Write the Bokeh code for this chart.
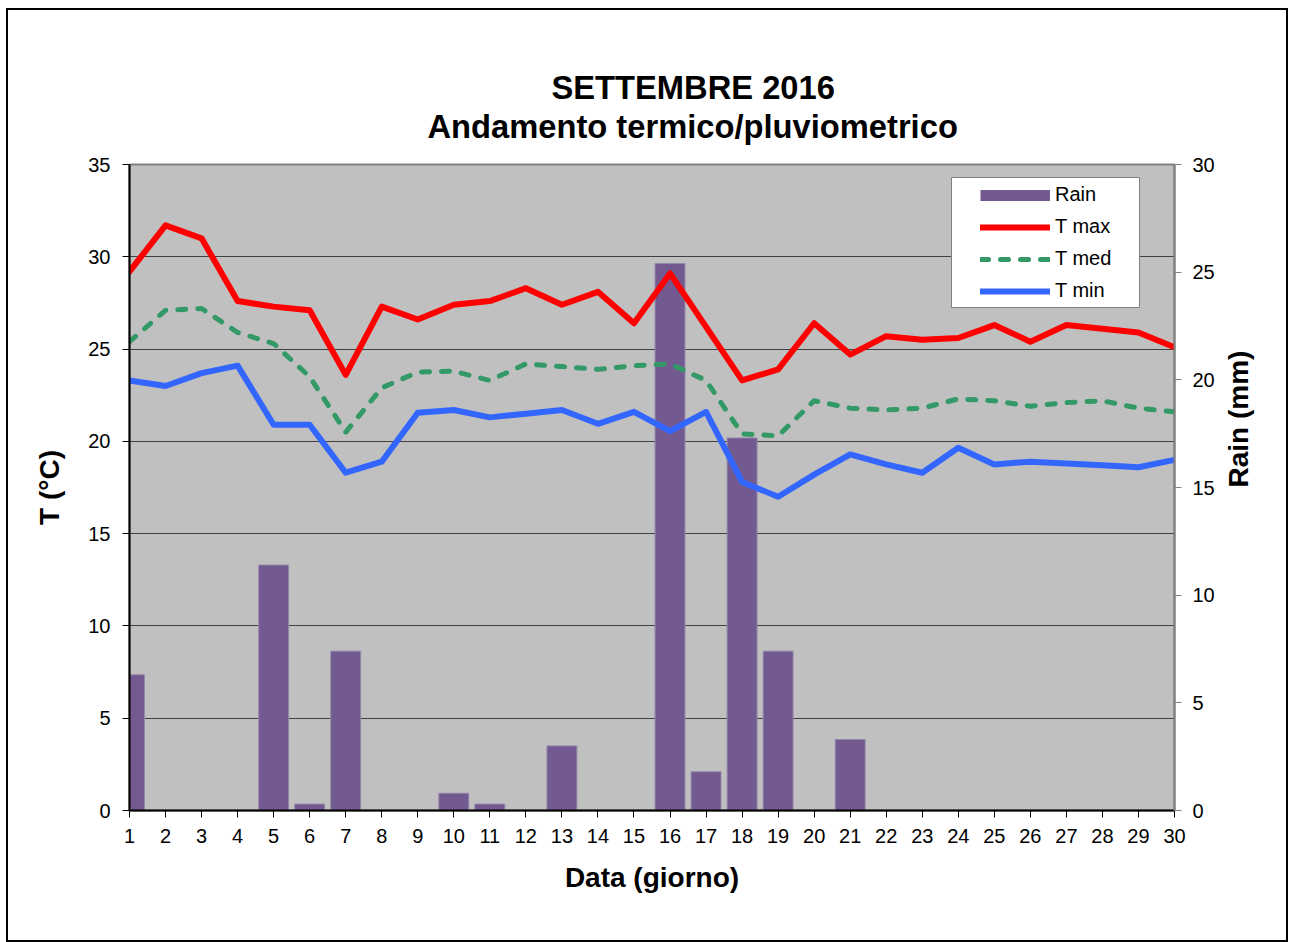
import math
import numpy as np
from bokeh.plotting import figure
from bokeh.models import (Range1d, LinearAxis, FixedTicker, Legend, LegendItem,
                          BoxAnnotation, ColumnDataSource, Title)
from bokeh.embed import file_html
from bokeh.resources import INLINE

# ---------------- data ----------------
days = list(range(1, 31))
rain = [6.3, 0, 0, 0, 11.4, 0.3, 7.4, 0, 0, 0.8,
        0.3, 0, 3.0, 0, 0, 25.4, 1.8, 17.3, 7.4, 0,
        3.3, 0, 0, 0, 0, 0, 0, 0, 0, 0]
t_max = [29.2, 31.7, 31.0, 27.6, 27.3, 27.1, 23.6, 27.3, 26.6, 27.4,
         27.6, 28.3, 27.4, 28.1, 26.4, 29.1, 26.2, 23.3, 23.9, 26.4,
         24.7, 25.7, 25.5, 25.6, 26.3, 25.4, 26.3, 26.1, 25.9, 25.1]
t_med = [25.4, 27.1, 27.2, 25.9, 25.3, 23.5, 20.5, 22.9, 23.75, 23.8,
         23.3, 24.2, 24.05, 23.9, 24.1, 24.2, 23.3, 20.4, 20.3, 22.2,
         21.8, 21.7, 21.8, 22.3, 22.2, 21.9, 22.1, 22.2, 21.8, 21.6]
t_min = [23.3, 23.0, 23.7, 24.1, 20.9, 20.9, 18.3, 18.9, 21.55, 21.7,
         21.3, 21.5, 21.7, 20.95, 21.6, 20.55, 21.6, 17.8, 17.0, 18.2,
         19.3, 18.75, 18.3, 19.65, 18.75, 18.9, 18.8, 18.7, 18.6, 19.0]
t_ticks = [0, 5, 10, 15, 20, 25, 30, 35]
rain_ticks = [0, 5, 10, 15, 20, 25, 30]
title_lines = ["SETTEMBRE 2016", "Andamento termico/pluviometrico"]

FONT = "Liberation Sans"
PURPLE = "#72598F"

src = ColumnDataSource(dict(day=days, rain=rain, t_max=t_max, t_med=t_med, t_min=t_min))

p = figure(width=1282, height=934, output_backend="svg", toolbar_location=None, tools="",
           title=None,
           x_range=Range1d(1, 30), y_range=Range1d(0, 35),
           min_border_left=121, min_border_right=116, min_border_top=154, min_border_bottom=134,
           background_fill_color="#C0C0C0", border_fill_color="white")
p.styles = {"border": "2px solid black", "margin-left": "6px", "margin-top": "8px"}
p.extra_y_ranges = {"rain": Range1d(0, 30)}
p.outline_line_color = "#808080"
p.outline_line_width = 2

# title: spacer nearest the frame, then line 2, then line 1 (left offsets centre them)
p.add_layout(Title(text=" ", text_font_size="12px", standoff=4, text_color="white"), "above")
for txt, off in ((title_lines[1], 298), (title_lines[0], 422)):
    p.add_layout(Title(text=txt, align="left", offset=off, standoff=0,
                       text_font=FONT, text_font_style="bold", text_font_size="32.7px",
                       text_color="black"), "above")

# axes
p.xaxis.ticker = FixedTicker(ticks=days)
p.yaxis.ticker = FixedTicker(ticks=t_ticks)
p.xaxis.axis_label = "Data (giorno)"
p.yaxis.axis_label = "T (°C)"
right = LinearAxis(y_range_name="rain", ticker=FixedTicker(ticks=rain_ticks), axis_label="Rain (mm)")
p.add_layout(right, "right")

for ax in (p.xaxis[0], p.yaxis[0], right):
    ax.major_label_text_font = FONT
    ax.major_label_text_font_size = "20px"
    ax.major_label_text_color = "black"
    ax.axis_line_color = "black"
    ax.axis_line_width = 2
    ax.major_tick_line_color = "black"
    ax.major_tick_line_width = 1
    ax.major_tick_in = 0
    ax.major_tick_out = 7
    ax.minor_tick_line_color = None
    ax.axis_label_text_font = FONT
    ax.axis_label_text_font_style = "bold"
    ax.axis_label_text_font_size = "28px"
    ax.axis_label_text_color = "black"

p.yaxis[0].major_label_standoff = 12
p.yaxis[0].axis_label_standoff = 20
p.xaxis[0].major_label_standoff = 11
p.xaxis[0].axis_label_standoff = 16
right.axis_line_color = "#808080"
right.major_tick_line_color = "#808080"
right.major_label_standoff = 11
right.axis_label_standoff = 21
right.axis_label_orientation = math.pi / 2

p.xgrid.grid_line_color = None
p.ygrid.ticker = FixedTicker(ticks=t_ticks[1:-1])
p.ygrid.grid_line_color = "#404040"
p.ygrid.grid_line_width = 1

# glyphs
p.vbar(x="day", top="rain", width=0.83, y_range_name="rain", source=src,
       fill_color=PURPLE, line_color="#9586AD", line_width=1)
r_max = p.line("day", "t_max", source=src, line_color="#FF0000", line_width=6,
               line_join="round", line_cap="round")
r_med = p.line("day", "t_med", source=src, line_color="#339966", line_width=5,
               line_dash="8 12", line_join="round", line_cap="round")
r_min = p.line("day", "t_min", source=src, line_color="#3366FF", line_width=6,
               line_join="round", line_cap="round")
# legend swatch only (no visible data)
leg_src = ColumnDataSource(dict(x=np.array([np.nan]), y=np.array([np.nan])))
r_rain_leg = p.line("x", "y", source=leg_src, line_color=PURPLE, line_width=11, line_cap="butt")

# legend box + legend
p.add_layout(BoxAnnotation(left=822, right=1010, bottom=503, top=633,
                           left_units="screen", right_units="screen",
                           bottom_units="screen", top_units="screen",
                           fill_color="white", fill_alpha=1.0,
                           line_color="#808080", line_width=1, line_alpha=1.0))
legend = Legend(items=[LegendItem(label="Rain", renderers=[r_rain_leg]),
                       LegendItem(label="T max", renderers=[r_max]),
                       LegendItem(label="T med", renderers=[r_med]),
                       LegendItem(label="T min", renderers=[r_min])],
                location=(851, 508), padding=6, spacing=9, margin=0,
                glyph_width=70, glyph_height=20, label_standoff=5,
                label_text_font=FONT, label_text_font_size="20px", label_text_color="black",
                border_line_color=None, background_fill_alpha=0.0)
p.add_layout(legend)

open("out.html", "w").write(file_html(p, INLINE))
